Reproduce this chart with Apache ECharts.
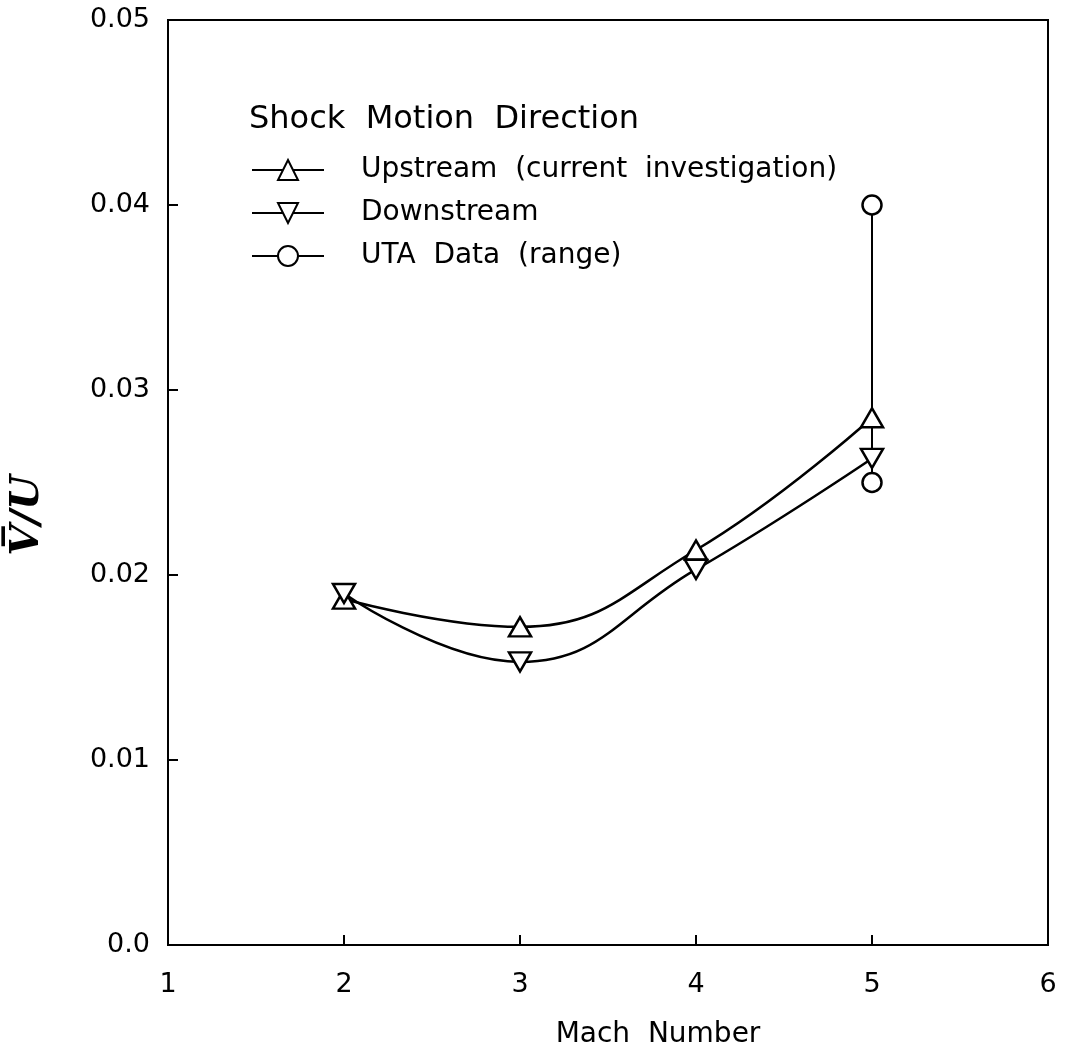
<!DOCTYPE html>
<html><head><meta charset="utf-8">
<script src="https://cdn.jsdelivr.net/npm/echarts@6/dist/echarts.min.js"></script>
<style>html,body{margin:0;padding:0;background:#fff}#c{width:1074px;height:1058px}</style>
</head><body><div id="c"></div>
<script>
const machNumbers = [2, 3, 4, 5];
const upstreamValues = [0.0187, 0.0172, 0.02135, 0.0285];
const downstreamValues = [0.0190, 0.0153, 0.0203, 0.0263];
const utaMach = [5, 5];
const utaValues = [0.040, 0.025];
const xTickLabels = ['1', '2', '3', '4', '5', '6'];
const yTickLabels = ['0.0', '0.01', '0.02', '0.03', '0.04', '0.05'];
const seriesNames = ['Upstream  (current  investigation)', 'Downstream', 'UTA  Data  (range)'];

const pair = (xs, ys) => xs.map((x, i) => [x, ys[i]]);
const font = 'DejaVu Sans, Liberation Sans, sans-serif';
const downTri = 'path://M0,0 L20,0 L10,17 Z';
const markStyle = { color: '#fff', borderColor: '#000', borderWidth: 2.5 };

const chart = echarts.init(document.getElementById('c'), null, { renderer: 'canvas' });
chart.setOption({
  animation: false,
  backgroundColor: '#fff',
  title: {
    text: 'Shock  Motion  Direction', left: 244, top: 99,
    textStyle: { fontFamily: font, fontSize: 32, fontWeight: 'normal', color: '#000' }
  },
  legend: {
    orient: 'vertical', left: 246, top: 151,
    itemWidth: 72, itemHeight: 25, itemGap: 15,
    data: seriesNames,
    textStyle: { fontFamily: font, fontSize: 28, color: '#000', lineHeight: 28, padding: [0, 0, 0, 32] }
  },
  grid: { left: 168, right: 26, top: 20, bottom: 113, show: true, borderColor: '#000', borderWidth: 2, outerBoundsMode: 'none', containLabel: false },
  xAxis: {
    type: 'value', min: 1, max: 6, interval: 1,
    name: 'Mach  Number', nameLocation: 'middle', nameGap: 76,
    nameTextStyle: { fontFamily: font, fontSize: 28, color: '#000', padding: [0, 0, 0, 100] },
    axisLine: { show: true, lineStyle: { color: '#000', width: 2 } },
    axisTick: { show: true, inside: true, length: 10, lineStyle: { color: '#000', width: 2 } },
    axisLabel: { margin: 26, fontFamily: font, fontSize: 27, color: '#000',
      formatter: v => xTickLabels[Math.round(v) - 1] },
    splitLine: { show: false }
  },
  yAxis: {
    type: 'value', min: 0, max: 0.05, interval: 0.01,
    name: 'V\u0305/U', nameLocation: 'middle', nameGap: 120,
    nameTextStyle: { fontFamily: 'DejaVu Serif, Liberation Serif, serif', fontSize: 40, fontWeight: 'bold', fontStyle: 'italic', color: '#000', padding: [0, 66, 0, 0] },
    axisLine: { show: true, lineStyle: { color: '#000', width: 2 } },
    axisTick: { show: true, inside: true, length: 10, lineStyle: { color: '#000', width: 2 } },
    axisLabel: { margin: 18, fontFamily: font, fontSize: 27, color: '#000',
      formatter: v => yTickLabels[Math.round(v * 100)] },
    splitLine: { show: false }
  },
  series: [
    {
      name: seriesNames[0], type: 'line', smooth: 0.45,
      data: pair(machNumbers, upstreamValues),
      symbol: 'triangle', symbolSize: [22, 19],
      lineStyle: { color: '#000', width: 2.5 }, itemStyle: markStyle, z: 3
    },
    {
      name: seriesNames[1], type: 'line', smooth: 0.45,
      data: pair(machNumbers, downstreamValues),
      symbol: downTri, symbolSize: [22, 19],
      lineStyle: { color: '#000', width: 2.5 }, itemStyle: markStyle, z: 3
    },
    {
      name: seriesNames[2], type: 'line',
      data: pair(utaMach, utaValues),
      symbol: 'circle', symbolSize: 19,
      lineStyle: { color: '#000', width: 2 }, itemStyle: markStyle, z: 2
    }
  ]
});
</script>
</body></html>
